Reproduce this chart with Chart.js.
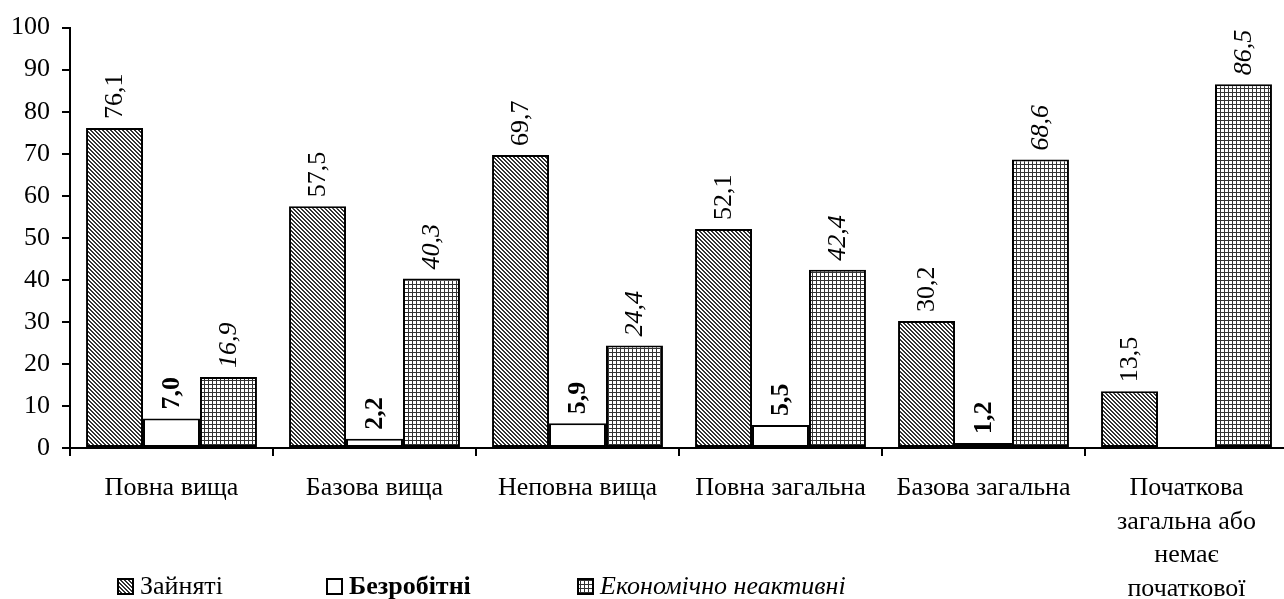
<!DOCTYPE html>
<html>
<head>
<meta charset="utf-8">
<script src="https://cdn.jsdelivr.net/npm/chart.js@4.4.1/dist/chart.umd.min.js"></script>
<style>
html, body { margin: 0; padding: 0; background: #fff; overflow: hidden; }
#wrap { width: 1288px; height: 599px; }
</style>
</head>
<body>
<div id="wrap"><canvas id="myChart"></canvas></div>
<script>
var categories = ["Повна вища", "Базова вища", "Неповна вища", "Повна загальна", "Базова загальна",
  ["Початкова", "загальна або", "немає", "початкової"]];
var seriesNames = ["Зайняті", "Безробітні", "Економічно неактивні"];
var employed = [76.1, 57.5, 69.7, 52.1, 30.2, 13.5];
var unemployed = [7.0, 2.2, 5.9, 5.5, 1.2, null];
var inactive = [16.9, 40.3, 24.4, 42.4, 68.6, 86.5];
var yTicks = [0, 10, 20, 30, 40, 50, 60, 70, 80, 90, 100];

var FONT = "'Liberation Serif', 'Times New Roman', serif";

function makeHatch() {
  var c = document.createElement("canvas");
  c.width = 4; c.height = 4;
  var g = c.getContext("2d");
  g.fillStyle = "#fff";
  g.fillRect(0, 0, 4, 4);
  g.fillStyle = "#333";
  for (var i = 0; i < 4; i++) {
    g.fillRect(i, i, 1, 1);
    g.fillRect((i + 1) % 4, i, 1, 1);
  }
  return g.createPattern(c, "repeat");
}
function makeGrid() {
  var c = document.createElement("canvas");
  c.width = 4; c.height = 4;
  var g = c.getContext("2d");
  g.fillStyle = "#fff";
  g.fillRect(0, 0, 4, 4);
  g.fillStyle = "#333";
  g.fillRect(0, 0, 4, 1);
  g.fillRect(0, 0, 1, 4);
  return g.createPattern(c, "repeat");
}
var fills = [makeHatch(), "#ffffff", makeGrid()];
var labelFonts = ["normal", "bold", "italic"];

function fontFor(i, size) {
  var style = labelFonts[i];
  return (style === "bold" ? "bold " : style === "italic" ? "italic " : "") + size + "px " + FONT;
}

var valueLabels = {
  id: "valueLabels",
  afterDatasetsDraw: function(chart) {
    var ctx = chart.ctx;
    chart.data.datasets.forEach(function(ds, di) {
      var meta = chart.getDatasetMeta(di);
      meta.data.forEach(function(bar, i) {
        var v = ds.data[i];
        if (v === null) return;
        ctx.save();
        ctx.fillStyle = "#000";
        ctx.font = fontFor(di, 26);
        ctx.translate(bar.x, bar.y - 9);
        ctx.rotate(-Math.PI / 2);
        ctx.textAlign = "left";
        ctx.textBaseline = "middle";
        ctx.fillText(v.toFixed(1).replace(".", ","), 0, 1);
        ctx.restore();
      });
    });
  }
};

var legendX = [118, 327, 578];
var bottomLegend = {
  id: "bottomLegend",
  afterDraw: function(chart) {
    var ctx = chart.ctx;
    var y = 587;
    seriesNames.forEach(function(name, i) {
      var x = legendX[i];
      ctx.save();
      ctx.fillStyle = fills[i];
      ctx.fillRect(x, y - 8, 15, 15);
      ctx.strokeStyle = "#000";
      ctx.lineWidth = 2;
      ctx.strokeRect(x, y - 8, 15, 15);
      ctx.font = fontFor(i, 26);
      ctx.fillStyle = "#000";
      ctx.textAlign = "left";
      ctx.textBaseline = "middle";
      ctx.fillText(name, x + 22, y);
      ctx.restore();
    });
  }
};

var datasetValues = [employed, unemployed, inactive];
new Chart("myChart", {
  type: "bar",
  data: {
    labels: categories,
    datasets: datasetValues.map(function(vals, i) {
      return {
        label: seriesNames[i],
        data: vals,
        backgroundColor: fills[i],
        borderColor: "#000",
        borderWidth: 2,
        borderSkipped: false,
        categoryPercentage: 0.842,
        barPercentage: 1.0
      };
    })
  },
  options: {
    responsive: true,
    maintainAspectRatio: false,
    animation: false,
    layout: { padding: { top: 23, left: 0, right: 0, bottom: 0 } },
    plugins: {
      legend: { display: false },
      tooltip: { enabled: false }
    },
    scales: {
      x: {
        grid: { drawOnChartArea: false, offset: true, color: "#000", lineWidth: 2, tickLength: 8 },
        border: { color: "#000", width: 2 },
        ticks: { color: "#000", font: { family: FONT, size: 26, lineHeight: 1.3 }, padding: 15, maxRotation: 0, autoSkip: false },
        afterFit: function(scale) { scale.height = 151; }
      },
      y: {
        min: 0,
        max: 100,
        afterBuildTicks: function(scale) {
          scale.ticks = yTicks.map(function(v) { return {value: v}; });
        },
        grid: { drawOnChartArea: false, color: "#000", lineWidth: 2, tickLength: 8 },
        border: { color: "#000", width: 2 },
        ticks: { color: "#000", font: { family: FONT, size: 26 }, padding: 12 },
        afterFit: function(scale) { scale.width = 70; }
      }
    }
  },
  plugins: [valueLabels, bottomLegend]
});
</script>
</body>
</html>
